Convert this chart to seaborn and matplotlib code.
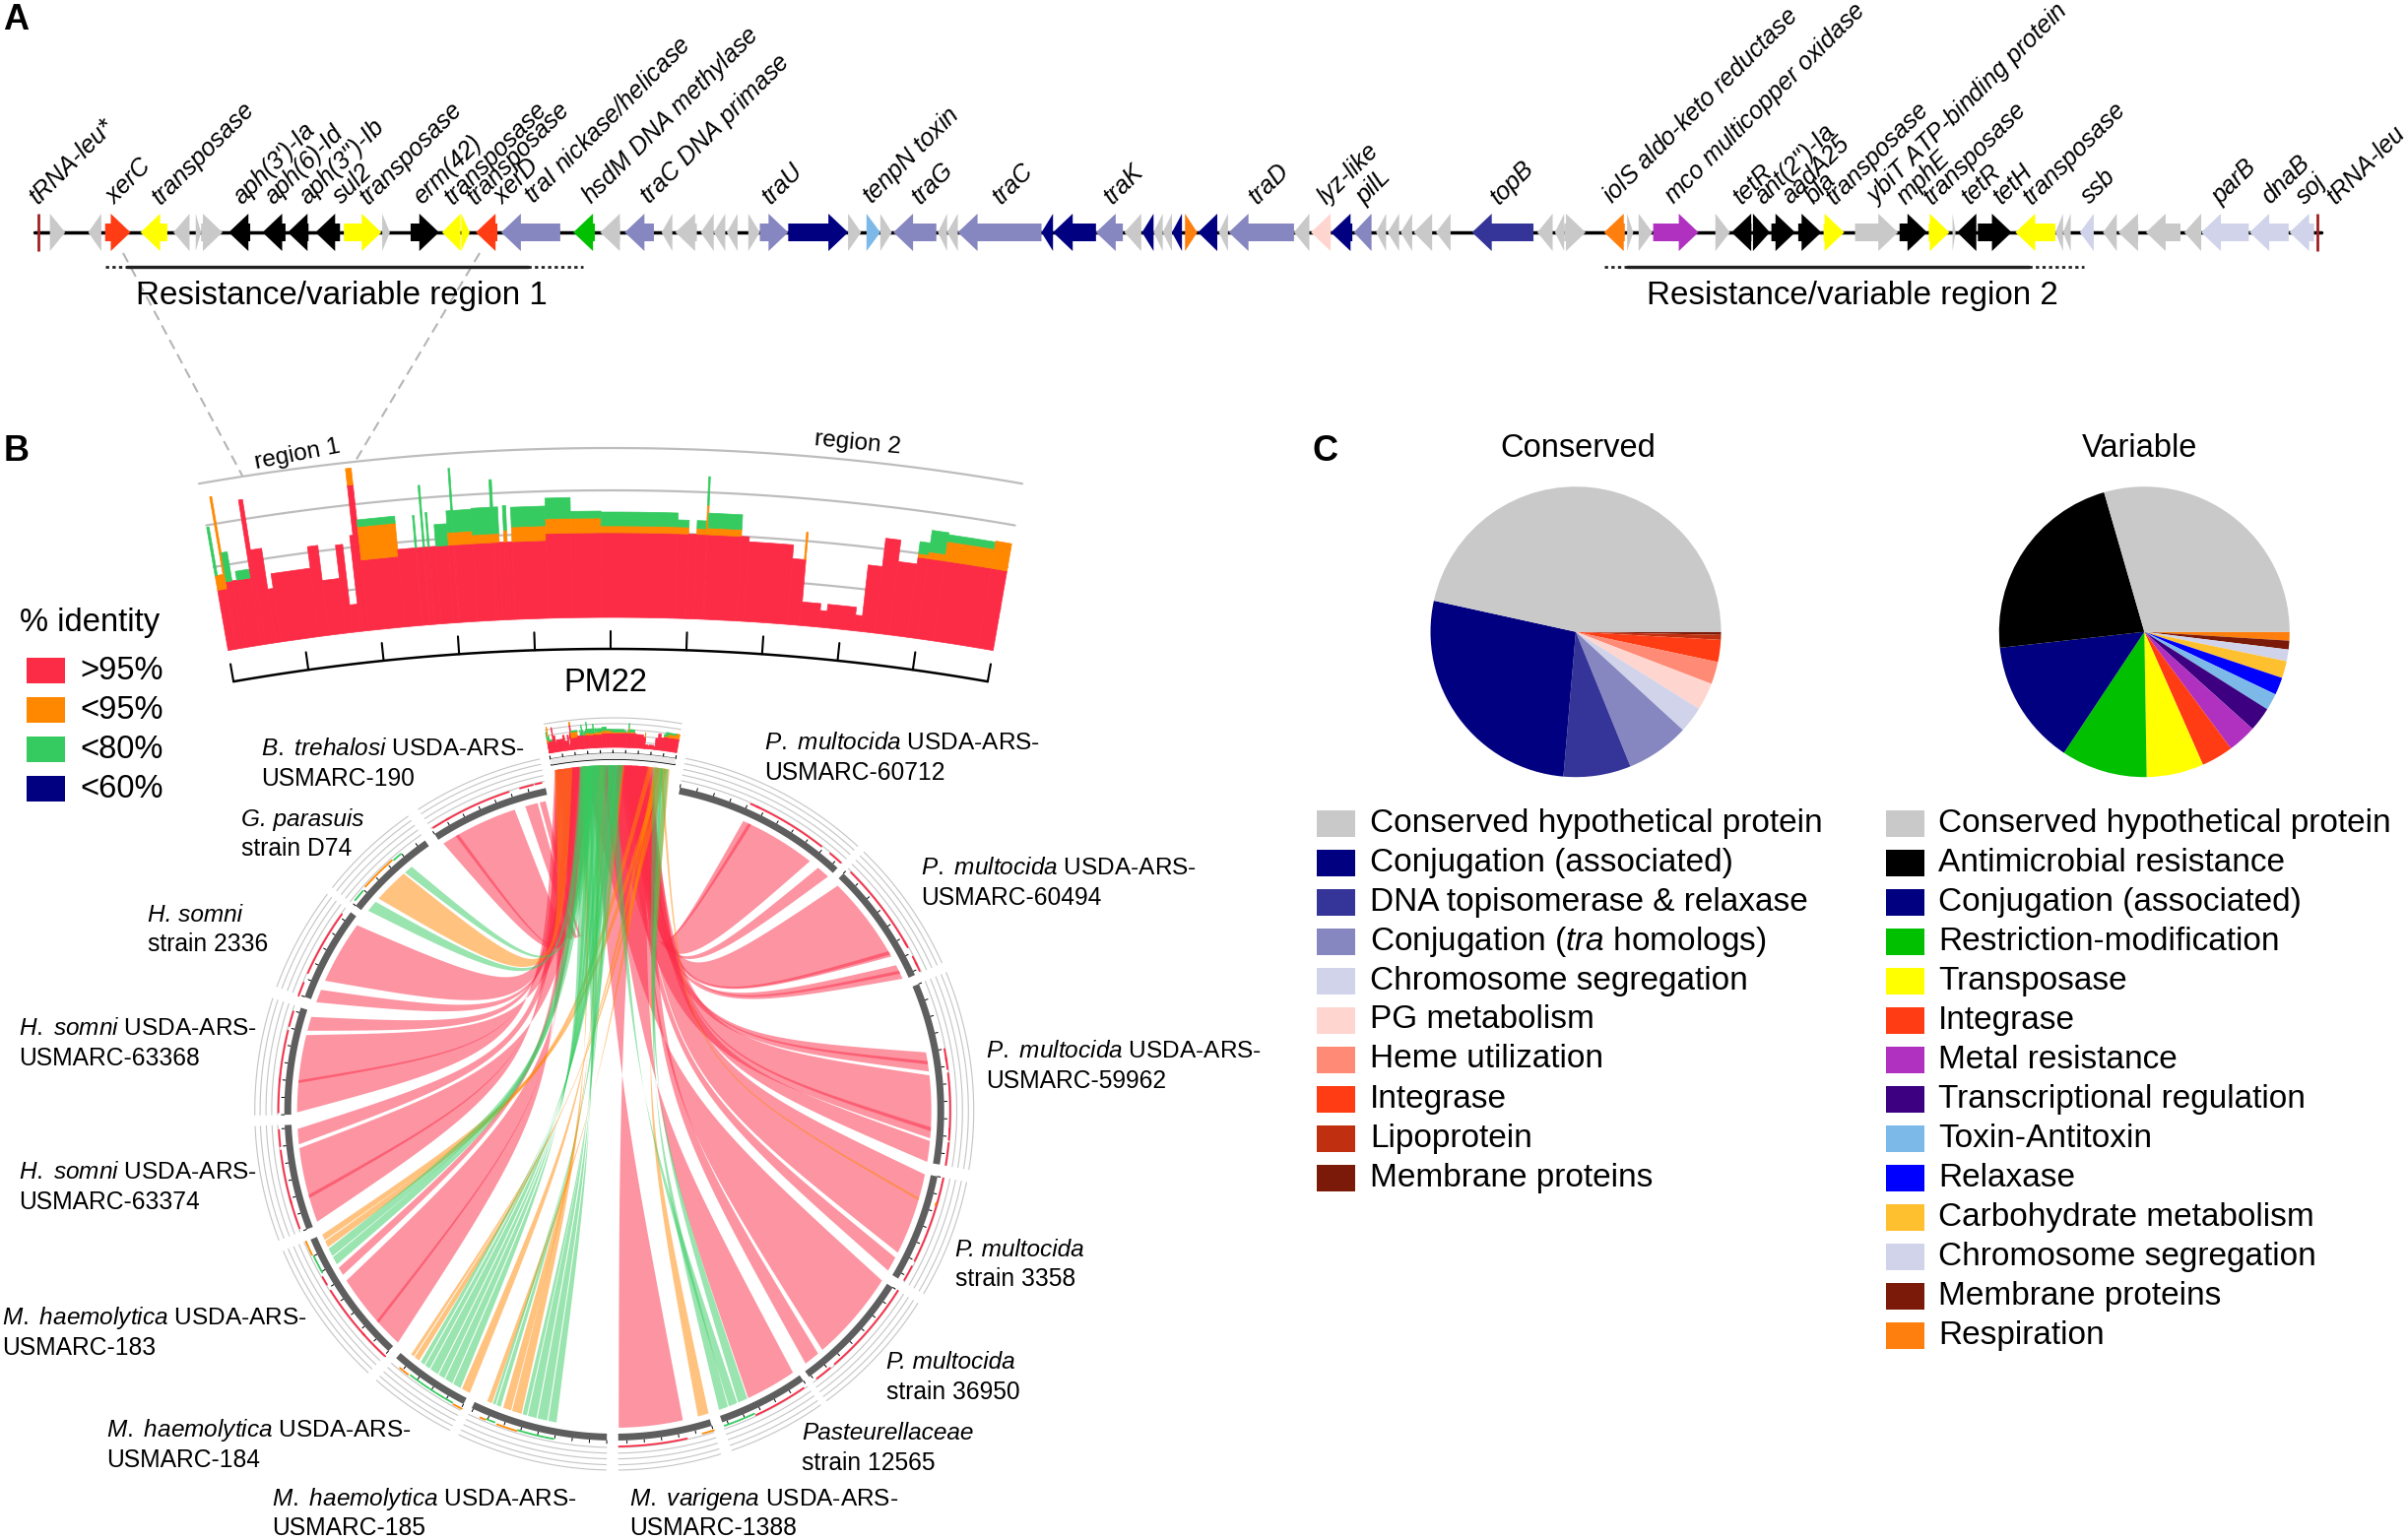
#!/usr/bin/env python3

import numpy as np
import seaborn as sns
from matplotlib import pyplot as plt
from matplotlib.patches import Rectangle

W, H = 2444, 1564

# --- panel A, gene map ---
# positions are read along the map, the second half of the map has its own origin
half_offset = 1568
genes_a_start = [65, 115, 137, 183, 226, 255, 262, 298, 342, 375, 411, 448, 498, 535, 576, 601, 620, 653, 747, 782,
                 814, 862, 880, 913, 930, 947, 975, 990, 1027, 1105, 1129, 1147, 1164, 1222, 1234, 1248, 1357, 1372,
                 1428, 1465, 1488, 1503, 1515, 1527, 1544, 1561]
genes_a_end = [85, 132, 170, 218, 247, 262, 290, 326, 372, 402, 443, 497, 508, 572, 600, 612, 648, 730, 775, 808,
               852, 876, 908, 930, 945, 961, 990, 1027, 1105, 1122, 1147, 1162, 1220, 1234, 1248, 1357, 1372, 1428,
               1463, 1487, 1503, 1515, 1527, 1540, 1560, 1586]
genes_a_strand = [1, -1, 1, -1, -1, 1, 1, -1, -1, -1, -1, 1, 1, 1, -1, 1, -1, -1, -1, -1,
                  -1, -1, -1, -1, -1, -1, 1, 1, 1, 1, 1, 1, -1, -1, -1, -1, -1, -1,
                  -1, -1, -1, -1, -1, -1, 1, -1]
genes_a_type = ['hyp', 'hyp', 'int', 'tnp', 'hyp', 'hyp', 'hyp', 'amr', 'amr', 'amr', 'amr', 'tnp', 'hyp', 'amr',
                'tnp', 'tnp', 'int', 'tra', 'rm', 'hyp', 'tra', 'hyp', 'hyp', 'hyp', 'hyp', 'hyp', 'hyp', 'tra',
                'conj', 'hyp', 'tox', 'hyp', 'tra', 'hyp', 'hyp', 'tra', 'conj', 'conj', 'tra', 'hyp', 'conj',
                'hyp', 'hyp', 'conj', 'resp', 'conj']

genes_b_start = [20, 33, 118, 140, 166, 196, 225, 240, 257, 274, 303, 350, 435, 458, 470, 522, 552, 567, 586, 667,
                 688, 716, 740, 775, 808, 849, 907, 945, 976, 982, 1009, 1058, 1110, 1120, 1142, 1172, 1192, 1228,
                 1278, 1300, 1363, 1415]
genes_b_end = [32, 118, 138, 166, 194, 219, 238, 255, 272, 298, 322, 430, 455, 470, 498, 549, 560, 585, 645, 686,
               714, 738, 771, 805, 835, 905, 943, 972, 980, 1007, 1053, 1110, 1120, 1130, 1160, 1190, 1218, 1273,
               1300, 1362, 1414, 1447]
genes_b_strand = [-1, -1, -1, -1, -1, -1, -1, -1, -1, -1, -1, -1, -1, -1, 1, -1, 1, 1, 1, 1,
                  -1, 1, 1, 1, 1, 1, 1, 1, 1, -1, 1, -1, -1, -1, -1, -1, -1, -1,
                  -1, -1, -1, -1]
genes_b_type = ['hyp', 'tra', 'hyp', 'pg', 'conj', 'tra', 'hyp', 'hyp', 'hyp', 'hyp', 'hyp', 'dna', 'hyp', 'hyp',
                'hyp', 'resp', 'hyp', 'hyp', 'metal', 'hyp', 'amr', 'amr', 'amr', 'amr', 'tnp', 'hyp', 'amr', 'tnp',
                'hyp', 'amr', 'amr', 'tnp', 'hyp', 'hyp', 'chr', 'hyp', 'hyp', 'hyp', 'hyp', 'chr', 'chr', 'chr']

trna_sites = [50, half_offset + 1451]
backbone_ends = [45, half_offset + 1457]

gene_labels_a = ['tRNA-leu*', 'xerC', 'transposase', "aph(3')-Ia", 'aph(6)-Id', "aph(3'')-Ib", 'sul2', 'transposase',
                 'erm(42)', 'transposase', 'transposase', 'xerD', r'$\mathit{traI}$ nickase/helicase',
                 r'$\mathit{hsdM}$ DNA methylase', r'$\mathit{traC}$ DNA primase', 'traU',
                 r'$\mathit{tenpN}$ toxin', 'traG', 'traC', 'traK']
gene_labels_a_x = [45, 145, 205, 311, 351, 396, 440, 475, 545, 585, 615, 650, 690, 765, 840, 1000, 1130, 1195, 1300,
                   1445]
gene_labels_b = ['traD', 'lyz-like', 'pilL', 'topB', r'$\mathit{iolS}$ aldo-keto reductase',
                 r'$\mathit{mco}$ multicopper oxidase', 'tetR', "ant(2'')-Ia", 'aadA25', 'bla', 'transposase',
                 r'$\mathit{ybiT}$ ATP-binding protein', 'mphE', 'transposase', 'tetR', 'tetH', 'transposase', 'ssb',
                 'parB', 'dnaB', 'soj', 'tRNA-leu']
gene_labels_b_x = [65, 155, 205, 380, 527, 607, 697, 725, 760, 790, 818, 870, 910, 945, 995, 1035, 1075, 1150, 1320,
                   1385, 1430, 1470]

region_dotted_left = [137, half_offset + 522]
region_solid_left = [165, half_offset + 552]
region_solid_right = [688, half_offset + 1075]
region_dotted_right = [760, half_offset + 1147]
region_label_x = [445, half_offset + 845]
region_names = ['Resistance/variable region 1', 'Resistance/variable region 2']

# --- panel B, PM22 coverage: one value per stretch of the 0-10 axis ---
hist_edges = [0.00, 0.03, 0.10, 0.125, 0.20, 0.26, 0.44, 0.49, 0.63, 0.70, 1.20, 1.33, 1.55, 1.64, 1.74, 1.78, 1.85,
              2.32, 2.54, 2.56, 2.64, 2.66, 2.70, 2.72, 2.80, 2.96, 3.02, 3.04, 3.27, 3.51, 3.54, 3.60, 3.66, 3.70,
              3.76, 4.19, 4.50, 4.88, 5.84, 5.98, 6.08, 6.20, 6.22, 6.64, 6.74, 7.30, 7.45, 7.47, 7.71, 7.80, 8.17,
              8.26, 8.44, 8.63, 8.87, 9.00, 9.21, 9.80, 10.00]
hist_red = [62, 62, 62, 69, 69, 69, 149, 97, 55, 70, 92, 56, 90, 28, 98, 149, 72,
            79, 79, 79, 79, 79, 79, 79, 79, 79, 79, 79, 79, 79, 79, 79, 79,
            79, 79, 86, 86, 86, 86, 86, 86, 86, 86, 86, 81, 67, 67, 24, 17, 24,
            16, 68, 97, 75, 82, 82, 82, 82]
hist_orange = [15, 15, 95, 0, 0, 0, 0, 0, 0, 0, 0, 0, 0, 0, 0, 17, 34,
               0, 0, 0, 0, 0, 0, 0, 0, 13, 13, 13, 9, 9, 9, 0, 12,
               0, 15, 15, 15, 7, 7, 0, 6, 30, 7, 0, 0, 0, 28, 0, 0, 0,
               0, 0, 0, 0, 4, 7, 20, 28]
hist_green = [50, 0, 0, 30, 0, 9, 0, 0, 0, 0, 0, 0, 0, 0, 0, 0, 7,
              0, 33, 0, 63, 0, 35, 0, 22, 22, 65, 22, 27, 55, 27, 0, 25,
              0, 20, 21, 7, 14, 7, 0, 8, 29, 15, 0, 0, 0, 0, 0, 0, 0,
              0, 0, 0, 0, 12, 22, 7, 0]
hist_region_names = ['region 1', 'region 2']
axis_ticks = list(range(11))

legend_identity = ['>95%', '<95%', '<80%', '<60%']

# --- panel B, ring of genomes: angle clockwise from the top ---
sector_start = [11.5, 44.0, 67.4, 101.5, 122.4, 145.0, 162.8, 181.3, 207.2, 223.2, 248.9, 269.3, 290.2, 308.4, 327.0]
sector_end = [42.6, 65.7, 99.4, 120.6, 143.8, 160.9, 179.3, 205.6, 221.4, 247.0, 267.5, 288.2, 307.0, 325.0, 348.0]

sector_line1 = [r'$\mathit{P.\ multocida}$ USDA-ARS-', r'$\mathit{P.\ multocida}$ USDA-ARS-',
                r'$\mathit{P.\ multocida}$ USDA-ARS-', 'P. multocida', 'P. multocida', 'Pasteurellaceae',
                r'$\mathit{M.\ varigena}$ USDA-ARS-', r'$\mathit{M.\ haemolytica}$ USDA-ARS-',
                r'$\mathit{M.\ haemolytica}$ USDA-ARS-', r'$\mathit{M.\ haemolytica}$ USDA-ARS-',
                r'$\mathit{H.\ somni}$ USDA-ARS-', r'$\mathit{H.\ somni}$ USDA-ARS-', 'H. somni', 'G. parasuis',
                r'$\mathit{B.\ trehalosi}$ USDA-ARS-']
sector_line2 = ['USMARC-60712', 'USMARC-60494', 'USMARC-59962', 'strain 3358', 'strain 36950', 'strain 12565',
                'USMARC-1388', 'USMARC-185', 'USMARC-184', 'USMARC-183', 'USMARC-63374', 'USMARC-63368',
                'strain 2336', 'strain D74', 'USMARC-190']
sector_label_x = [776, 935, 1001, 970, 900, 814, 639, 276, 108, 2, 19, 19, 150, 245, 265]
sector_label_y = [755, 882, 1068, 1269, 1384, 1456, 1522, 1522, 1453, 1339, 1191, 1045, 929, 832, 761]

# alignment ribbons: ring angles, identity class, stretch of PM22, twisted or not
band_start = [24.0, 25.0, 40.0,
              44.8, 59.8, 62.7, 63.8,
              79.4, 81.0, 83.6, 93.0, 95.5,
              101.6, 106.0, 117.6,
              122.4, 140.0,
              145.7, 155.2, 157.2, 159.0,
              162.7, 167.5,
              190.5, 192.2, 194.2, 196.0, 197.0, 199.0, 201.0, 202.0, 202.7,
              207.1, 209.0, 210.7, 212.4, 213.8, 215.6, 216.8, 218.0, 219.2,
              223.0, 228.0, 238.8, 241.0, 242.7, 244.5, 245.9,
              249.5, 254.0, 263.9,
              269.7, 275.0, 284.6,
              290.0, 294.2,
              309.1, 312.0, 318.7,
              327.4, 330.0, 343.7, 346.4]
band_end = [38.1, 25.6, 42.4,
            60.9, 60.5, 65.4, 64.4,
            82.9, 81.6, 95.0, 93.7, 99.3,
            116.6, 106.4, 120.3,
            139.0, 142.9,
            155.0, 157.0, 158.8, 160.7,
            164.7, 179.2,
            192.0, 194.0, 195.8, 196.8, 198.8, 200.5, 201.8, 202.5, 203.6,
            208.7, 210.5, 212.2, 213.6, 215.4, 216.6, 217.6, 219.0, 219.8,
            237.6, 228.5, 240.3, 242.5, 244.2, 245.7, 247.0,
            263.2, 254.6, 266.7,
            283.8, 275.5, 287.2,
            292.4, 305.8,
            311.2, 318.4, 320.3,
            341.7, 330.6, 346.0, 347.5]
band_level = [0, 0, 0,
              0, 0, 0, 0,
              0, 0, 0, 0, 0,
              0, 1, 0,
              0, 0,
              0, 2, 2, 2,
              1, 0,
              2, 2, 2, 2, 1, 1, 2, 2, 1,
              1, 2, 2, 2, 2, 2, 2, 1, 1,
              0, 0, 0, 2, 2, 1, 1,
              0, 0, 0,
              0, 0, 0,
              0, 0,
              2, 1, 2,
              0, 0, 0, 0]
band_top_start = [6.3, 7.5, 6.8,
                  5.9, 6.5, 5.5, 7.0,
                  5.9, 6.9, 4.0, 7.6, 7.0,
                  5.9, 9.0, 5.4,
                  2.5, 7.3,
                  4.0, 8.4, 4.5, 9.0,
                  9.3, 3.0,
                  2.3, 3.0, 3.6, 4.6, 2.4, 3.9, 5.0, 5.4, 8.5,
                  5.7, 2.2, 2.8, 3.5, 4.1, 4.8, 5.2, 8.6, 9.2,
                  0.2, 1.5, 1.8, 2.5, 3.2, 8.0, 9.0,
                  0.2, 1.2, 1.4,
                  0.1, 0.6, 1.4,
                  1.9, 0.2,
                  2.3, 0.1, 2.8,
                  0.1, 0.9, 0.3, 0.7]
band_top_end = [9.0, 7.7, 7.4,
                8.4, 6.7, 6.0, 7.2,
                6.6, 7.1, 8.0, 7.8, 7.8,
                8.2, 9.2, 5.9,
                7.0, 8.0,
                7.8, 9.2, 5.2, 9.7,
                9.8, 7.0,
                3.2, 3.9, 4.5, 5.0, 2.9, 4.3, 5.4, 5.8, 8.9,
                6.0, 3.2, 3.8, 4.4, 5.0, 5.5, 5.9, 9.0, 9.6,
                3.0, 1.7, 2.2, 3.4, 4.0, 8.4, 9.4,
                4.0, 1.4, 2.2,
                3.5, 0.8, 1.8,
                2.2, 2.1,
                3.0, 1.6, 3.6,
                2.2, 1.1, 0.7, 0.9]
band_twist = [0, 0, 0,
              0, 0, 0, 0,
              0, 0, 0, 0, 0,
              0, 0, 0,
              1, 0,
              1, 1, 1, 1,
              1, 1,
              1, 1, 1, 1, 1, 1, 1, 1, 1,
              1, 1, 1, 1, 1, 1, 1, 1, 1,
              1, 1, 0, 0, 0, 0, 0,
              1, 1, 0,
              1, 1, 0,
              0, 0,
              0, 0, 0,
              0, 0, 0, 0]

# --- panel C ---
conserved_names = ['Conserved hypothetical protein', 'Conjugation (associated)', 'DNA topisomerase & relaxase',
                   r'Conjugation ($\mathit{tra}$ homologs)', 'Chromosome segregation', 'PG metabolism',
                   'Heme utilization', 'Integrase', 'Lipoprotein', 'Membrane proteins']
conserved_colors = ['#C9C9C9', '#000080', '#343499', '#8686C0', '#D0D3EA', '#FFD5CF', '#FF8A75', '#FF3C14',
                    '#C03010', '#7B1A08']
conserved_degrees = [167.6, 97.5, 27.0, 25.4, 10.5, 11.0, 9.0, 8.8, 2.0, 1.2]

variable_names = ['Conserved hypothetical protein', 'Antimicrobial resistance', 'Conjugation (associated)',
                  'Restriction-modification', 'Transposase', 'Integrase', 'Metal resistance',
                  'Transcriptional regulation', 'Toxin-Antitoxin', 'Relaxase', 'Carbohydrate metabolism',
                  'Chromosome segregation', 'Membrane proteins', 'Respiration']
variable_colors = ['#C9C9C9', '#000000', '#000080', '#00C000', '#FFFF00', '#FF3C14', '#B030C0', '#3C0080',
                   '#7CB9E8', '#0000FF', '#FFC030', '#D0D3EA', '#7B1A08', '#FF7F0E']
variable_degrees = [106.1, 80.2, 50.1, 34.5, 22.9, 12.8, 11.5, 9.7, 6.7, 7.0, 6.8, 4.7, 3.5, 3.5]

gene_colors = {'hyp': '#C9C9C9', 'int': '#FF3C14', 'tnp': '#FFFF00', 'amr': '#000000', 'tra': '#8686C0',
               'rm': '#00C000', 'conj': '#000080', 'tox': '#7CB9E8', 'resp': '#FF7F0E', 'pg': '#FFD5CF',
               'dna': '#343499', 'metal': '#B030C0', 'chr': '#D0D3EA'}
level_colors = ['#FC2B46', '#FF8800', '#35CB60', '#000080']


def polar(cx, cy, r, deg):
    rad = np.radians(deg)
    return cx + r * np.sin(rad), cy - r * np.cos(rad)


def arc_line(ax, cx, cy, r, a0, a1, color, lw, n=80):
    x, y = polar(cx, cy, r, np.linspace(a0, a1, n))
    sns.lineplot(x=x, y=y, ax=ax, color=color, linewidth=lw, sort=False, estimator=None, legend=False)


def annulus(ax, cx, cy, r0, r1, a0, a1, color, **kw):
    ang = np.linspace(a0, a1, max(int(abs(a1 - a0) * 3), 2))
    x0, y0 = polar(cx, cy, r0, ang)
    x1, y1 = polar(cx, cy, r1, ang[::-1])
    ax.fill(np.r_[x0, x1], np.r_[y0, y1], color=color, **kw)


def draw_hist(ax, cx, cy, base, scale, a_lo, a_hi):
    for i in range(len(hist_red)):
        a0 = a_lo + hist_edges[i] / 10 * (a_hi - a_lo)
        a1 = a_lo + hist_edges[i + 1] / 10 * (a_hi - a_lo)
        r0 = base
        for value, col in zip((hist_red[i], hist_orange[i], hist_green[i]), level_colors):
            if value == 0:
                continue
            r1 = r0 + value * scale
            annulus(ax, cx, cy, r0, r1, a0, a1, col, lw=0.5, zorder=3)
            r0 = r1


def draw_genes(ax, starts, ends, strands, kinds, offset):
    for s, e, d, k in zip(starts, ends, strands, kinds):
        x0 = (s + offset) / 1.2832
        x1 = (e + offset) / 1.2832
        head = min(20, x1 - x0)
        y = 236
        if d > 0:
            xs = [x0, x1 - head, x1 - head, x1, x1 - head, x1 - head, x0]
        else:
            xs = [x1, x0 + head, x0 + head, x0, x0 + head, x0 + head, x1]
        ys = [y - 9, y - 9, y - 19, y, y + 19, y + 9, y + 9]
        ax.fill(xs, ys, color=gene_colors[k], lw=0, zorder=3)


def ribbon(ax, cx, cy, a0, a1, t0, t1, level, twist):
    r_ring = 322
    r_top = 351
    def bez(p0, p3):
        c = (np.array(p0) + np.array(p3)) / 2
        c = np.array([cx, cy]) + 0.38 * (c - np.array([cx, cy]))
        s = np.linspace(0, 1, 60)[:, None]
        return (1 - s) ** 3 * np.array(p0) + 3 * (1 - s) * s * c + s ** 3 * np.array(p3)

    ta0 = -10.1 + t0 / 10 * 19.7
    ta1 = -10.1 + t1 / 10 * 19.7
    pa0 = polar(cx, cy, r_ring, a0)
    pa1 = polar(cx, cy, r_ring, a1)
    pt0 = polar(cx, cy, r_top, ta0)
    pt1 = polar(cx, cy, r_top, ta1)
    if twist:
        first, second = bez(pa1, pt1), bez(pt0, pa0)
    else:
        first, second = bez(pa1, pt0), bez(pt1, pa0)
    ring_x, ring_y = polar(cx, cy, r_ring, np.linspace(a0, a1, 24))
    xs = np.r_[ring_x, first[:, 0], second[:, 0]]
    ys = np.r_[ring_y, first[:, 1], second[:, 1]]
    ax.fill(xs, ys, color=level_colors[level], alpha=0.5, lw=0, zorder=2)


def draw_pie(fig, cx, cy, r, degrees, colors):
    pie_ax = fig.add_axes([(cx - r) / W, 1 - (cy + r) / H, 2 * r / W, 2 * r / H])
    # slices run clockwise and the last one ends at three o'clock
    pie_ax.pie(degrees[::-1], colors=colors[::-1], startangle=0, counterclock=False, radius=1,
               wedgeprops={'linewidth': 0})
    pie_ax.set_xlim(-1, 1)
    pie_ax.set_ylim(-1, 1)


def plot(out_file):
    sns.set_theme(style='white')
    plt.rcParams['font.family'] = 'Liberation Sans'
    plt.rcParams['mathtext.fontset'] = 'custom'
    plt.rcParams['mathtext.rm'] = 'Liberation Sans'
    plt.rcParams['mathtext.it'] = 'Liberation Sans:italic'
    plt.rcParams['mathtext.bf'] = 'Liberation Sans:bold'
    plt.rcParams['text.color'] = 'black'

    fig = plt.figure(figsize=(W / 100, H / 100), dpi=100)
    ax = fig.add_axes([0, 0, 1, 1])
    ax.set_xlim(0, W)
    ax.set_ylim(H, 0)
    ax.set_autoscale_on(False)
    ax.set_axis_off()

    ax.text(3, 21, 'A', fontsize=26, fontweight='bold', va='center')
    ax.text(4, 458, 'B', fontsize=26, fontweight='bold', va='center')
    ax.text(1332, 458, 'C', fontsize=26, fontweight='bold', va='center')

    # panel A
    sns.lineplot(x=np.array(backbone_ends) / 1.2832, y=[236, 236], ax=ax, color='black', linewidth=2.5,
                 sort=False, estimator=None, legend=False, zorder=1)
    draw_genes(ax, genes_a_start, genes_a_end, genes_a_strand, genes_a_type, 0)
    draw_genes(ax, genes_b_start, genes_b_end, genes_b_strand, genes_b_type, half_offset)
    ax.vlines(np.array(trna_sites) / 1.2832, 217, 255, color='#A02020', lw=2, zorder=4)

    for name, x in zip(gene_labels_a + gene_labels_b,
                       gene_labels_a_x + [half_offset + v for v in gene_labels_b_x]):
        ax.text(x / 1.2832 + 4, 208, name, fontsize=18, rotation=45, rotation_mode='anchor',
                ha='left', va='baseline', style='italic')

    for i in range(2):
        x0, x1, x2, x3 = [v[i] / 1.2832 for v in (region_dotted_left, region_solid_left,
                                                  region_solid_right, region_dotted_right)]
        ax.plot([x0, x1], [271, 271], color='#222222', lw=2, ls=(0, (1.2, 1.2)))
        ax.plot([x1, x2], [271, 271], color='#222222', lw=2.4)
        ax.plot([x2, x3], [271, 271], color='#222222', lw=2, ls=(0, (1.2, 1.2)))
        ax.text(region_label_x[i] / 1.2832, 300, region_names[i], fontsize=23.9, ha='center', va='center')

    ax.plot([125, 246], [257, 483], color='#B5B5B5', lw=1.5, ls=(0, (5, 3)), zorder=0)
    ax.plot([487, 361], [257, 468], color='#B5B5B5', lw=1.5, ls=(0, (5, 3)), zorder=0)

    # panel B zoomed PM22 arc
    hx, hy = 620, 2886
    for k in (1, 2, 3, 4):
        arc_line(ax, hx, hy, 2259 + 43 * k, -9.9, 9.9, '#BDBDBD', 1.6)
    draw_hist(ax, hx, hy, 2259, 1.0, -9.9, 9.9)
    arc_line(ax, hx, hy, 2227, -9.9, 9.9, 'black', 1.8)
    for t in axis_ticks:
        a = -9.9 + t / 10 * 19.8
        tx, ty = polar(hx, hy, np.array([2227, 2245]), a)
        ax.plot(tx, ty, color='black', lw=1.5)
    ax.text(302, 462, hist_region_names[0], fontsize=17.6, rotation=11, ha='center', va='center')
    ax.text(871, 450, hist_region_names[1], fontsize=17.6, rotation=-5.5, ha='center', va='center')
    ax.text(615, 693, 'PM22', fontsize=23.5, ha='center', va='center')

    # panel B legend
    ax.text(20, 632, '% identity', fontsize=23.6, va='center')
    for i, name in enumerate(legend_identity):
        ax.add_patch(Rectangle((27, 668 + 40 * i), 39, 26, color=level_colors[i], lw=0))
        ax.text(81, 681 + 40 * i, name, fontsize=23.6, va='center')

    # panel B ring
    cx, cy = 623.7, 1128
    guide_r = [342, 347.8, 353.6, 359.6, 365]
    for s0, s1 in zip(sector_start, sector_end):
        for r in guide_r:
            arc_line(ax, cx, cy, r, s0, s1, '#C4C4C4', 0.8, n=40)
        annulus(ax, cx, cy, 328, 335, s0, s1, '#5E5E5E', lw=0, zorder=3)
        for a in np.arange(s0, s1, 3.0):
            tx, ty = polar(cx, cy, np.array([335, 338]), a)
            ax.plot(tx, ty, color='black', lw=0.7)

    for a0, a1, lvl in zip(band_start, band_end, band_level):
        arc_line(ax, cx, cy, 341 - lvl, a0, a1, level_colors[lvl], 1.3, n=30)

    order = sorted(range(len(band_start)), key=lambda j: band_level[j])
    for j in order:
        ribbon(ax, cx, cy, band_start[j], band_end[j], band_top_start[j], band_top_end[j],
               band_level[j], band_twist[j])

    # the PM22 sector on top of the ring
    for k in (1, 2, 3, 4, 5):
        arc_line(ax, cx, cy, 369 + 6 * k, -10.3, 9.9, '#C4C4C4', 0.8, n=30)
    draw_hist(ax, cx, cy, 369, 0.17, -10.3, 9.9)
    annulus(ax, cx, cy, 357, 363, -10.3, 9.9, '#EBEBEB', lw=0, zorder=3)
    arc_line(ax, cx, cy, 357, -10.3, 9.9, 'black', 1.2, n=30)
    arc_line(ax, cx, cy, 363, -10.3, 9.9, '#555555', 0.8, n=30)
    for t in axis_ticks:
        a = -10.3 + t / 10 * 20.2
        tx, ty = polar(cx, cy, np.array([363, 366]), a)
        ax.plot(tx, ty, color='black', lw=0.8)

    for l1, l2, x, y in zip(sector_line1, sector_line2, sector_label_x, sector_label_y):
        style = 'normal' if '$' in l1 else 'italic'
        ax.text(x, y, l1, fontsize=17.6, va='center', style=style)
        ax.text(x, y + 30, l2, fontsize=17.7, va='center')

    # panel C
    ax.text(1602, 455, 'Conserved', fontsize=23.5, ha='center', va='center')
    ax.text(2173, 455, 'Variable', fontsize=23.5, ha='center', va='center')
    draw_pie(fig, 1600, 641.7, 147.5, conserved_degrees, conserved_colors)
    draw_pie(fig, 2177.3, 641.7, 147.5, variable_degrees, variable_colors)

    for i, (name, col) in enumerate(zip(conserved_names, conserved_colors)):
        ax.add_patch(Rectangle((1337, 822.5 + 40 * i), 39, 27, color=col, lw=0))
        ax.text(1391, 836 + 40 * i, name, fontsize=24, va='center')
    for i, (name, col) in enumerate(zip(variable_names, variable_colors)):
        ax.add_patch(Rectangle((1915, 823 + 40 * i), 39, 27, color=col, lw=0))
        ax.text(1968, 836.5 + 40 * i, name, fontsize=24, va='center')

    fig.savefig(out_file, dpi=100)


if __name__ == '__main__':
    plot('out.png')
